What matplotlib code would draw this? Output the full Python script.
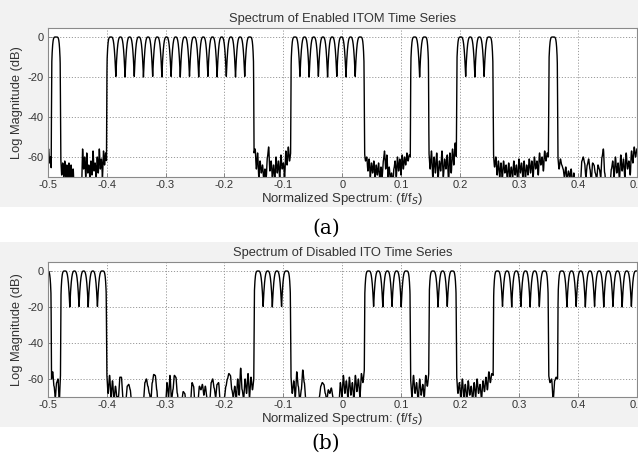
import numpy as np
import matplotlib
matplotlib.use('Agg')
import matplotlib.pyplot as plt
from matplotlib.patches import Rectangle

# ---------------- data ----------------
CH_WIDTH = 1 / 64          # channel width (normalized frequency)
CH_ORIGIN = -0.4           # left edge of channel 0
CH_RANGE = (-7, 57)        # channel indices that cover [-0.5, 0.5]

# active channels (a) enabled ITOM, (b) disabled ITO (complement)
ACTIVE_A = [-6, 0, 1, 2, 3, 4, 5, 6, 7, 8, 9, 10, 11, 12, 13, 14, 15,
            20, 21, 22, 23, 24, 25, 26, 27, 33, 34, 38, 39, 40, 41, 48]
ACTIVE_B = [-7, -5, -4, -3, -2, -1, 16, 17, 18, 19, 28, 29, 30, 31, 32,
            35, 36, 37, 42, 43, 44, 45, 46, 47, 49, 50, 51, 52, 53, 54, 55, 56, 57]

PASSBAND_RIPPLE_DB = -20   # depth of the dips between adjacent channels

# noise floor samples (dB), one list per gap between occupied bands, left to right
NOISE_A = [
    [-58, -56, -63, -60, -66],
    [-60, -69, -63, -70, -62, -71, -64, -70, -63, -72, -64, -71, -66,
     -76, -78, -77, -78, -76, -78, -77, -76,
     -56, -66, -60, -70, -58, -68, -64, -71, -62, -69, -57, -67, -63, -70,
     -60, -68, -56, -66, -61, -70, -57, -64, -58, -62],
    [-58, -56, -66, -58, -70, -62, -68, -64, -71, -66, -70, -60, -55, -67, -62,
     -70, -64, -72, -60, -68, -62, -71, -59, -66, -63, -70, -57, -64, -55, -62, -58],
    [-58, -62, -60, -67, -61, -70, -63, -68, -62, -71, -64, -69, -63, -72, -65,
     -70, -62, -57, -66, -59, -70, -65, -72, -68, -74, -66, -62, -70, -60, -67,
     -61, -69, -59, -66, -60, -64, -58, -62, -59, -60],
    [-58, -66, -57, -70, -60, -68, -58, -71, -62, -67, -57, -70, -61, -66, -59,
     -72, -58, -68, -56, -64, -53, -60],
    [-58, -65, -60, -69, -62, -70, -63, -71, -62, -68, -64, -72, -63, -70, -65,
     -71, -62, -69, -64, -72, -61, -68, -63, -70, -62, -71, -64, -69, -61, -68,
     -62, -70, -60, -66, -62, -69, -58, -64, -60, -67, -57, -62, -58, -60],
    [-60, -66, -61, -64,
     -66, -70, -65, -72, -67, -70, -66, -74, -68,
     -76, -75, -74, -76, -72,
     -62, -60, -63, -70, -64, -61, -66, -72, -63, -64, -68, -71, -64,
     -66, -70, -60, -56, -68, -74, -71, -75, -73,
     -66, -62, -70, -60, -68, -63, -71, -59, -67, -61, -70, -58, -66, -62,
     -69, -57, -63, -55, -60, -56],
]

NOISE_B = [
    [-60, -56, -64, -70, -62, -60, -72, -58],
    [-57, -68, -58, -70, -61, -72, -64, -70, -70, -59, -59, -70, -75, -72, -64,
     -63, -66, -74, -78, -78, -78, -78, -78, -78, -78, -72, -62, -60, -64, -68,
     -72, -62, -57.5, -58, -66, -75, -78, -78, -78, -78, -74, -62, -70, -58, -72,
     -66, -58, -59, -68, -76, -76, -72, -67, -68, -74, -76, -76, -72, -62, -64,
     -74, -76, -72, -64, -66, -63, -69, -64, -70, -75, -72, -62, -60, -65, -70,
     -63, -62, -72, -75, -74, -70, -64, -60, -57, -58, -66, -70, -64, -71, -60,
     -69, -54, -66, -71, -60, -68, -57, -70, -59, -66, -60],
    [-58, -68, -61, -70, -56, -64, -72,
     -66, -55, -62, -72, -75,
     -76, -78, -76, -78, -77, -76, -74,
     -70, -64, -62, -63, -68, -72,
     -66, -68, -65, -70,
     -76, -78, -76, -74,
     -62, -70, -58, -68, -61, -71, -59, -69, -62, -72, -58, -67, -60, -70, -57,
     -62, -55],
    [-60, -70, -58, -68, -62, -72, -60, -69, -63, -70, -58, -64, -57],
    [-58, -68, -62, -71, -60, -70, -63, -72, -61, -69, -64, -72, -62, -70, -60,
     -68, -63, -71, -61, -67, -59, -66, -56, -62, -57, -58],
    [-58, -62, -60, -72, -61, -59, -60],
]

TITLES = ['Spectrum of Enabled ITOM Time Series', 'Spectrum of Disabled ITO Time Series']
PANEL_TAGS = ['(a)', '(b)']
X_TICKS = [-0.5, -0.4, -0.3, -0.2, -0.1, 0, 0.1, 0.2, 0.3, 0.4, 0.5]
X_TICK_LABELS = ['-0.5', '-0.4', '-0.3', '-0.2', '-0.1', '0', '0.1', '0.2', '0.3', '0.4', '0.5']
Y_TICKS = [-60, -40, -20, 0]
Y_TICK_LABELS = ['-60', '-40', '-20', '0']


# ---------------- spectrum assembly ----------------
def smooth_interp(x, xp, fp):
    """cosine interpolation between consecutive samples (rounded peaks)"""
    xp = np.asarray(xp, float)
    fp = np.asarray(fp, float)
    idx = np.clip(np.searchsorted(xp, x, side='right') - 1, 0, len(xp) - 2)
    t = (x - xp[idx]) / (xp[idx + 1] - xp[idx])
    t = np.clip(t, 0, 1)
    w = (1 - np.cos(np.pi * t)) / 2
    return fp[idx] + (fp[idx + 1] - fp[idx]) * w


def build_spectrum(active, noise, f):
    active = set(active)
    y = np.full_like(f, -90.0)
    k = CH_RANGE[0]
    gaps = []
    while k <= CH_RANGE[1]:
        if k not in active:
            k0 = k
            while k + 1 <= CH_RANGE[1] and (k + 1) not in active:
                k += 1
            gs = max(CH_ORIGIN + k0 * CH_WIDTH, -0.5)
            ge = min(CH_ORIGIN + (k + 1) * CH_WIDTH, 0.5)
            gaps.append((gs, ge))
        k += 1
    for (gs, ge), vals in zip(gaps, noise):
        m = (f >= gs) & (f <= ge)
        fx = np.linspace(gs, ge, len(vals))
        y[m] = smooth_interp(f[m], fx, vals)
    lobe = np.full_like(f, -200.0)
    in_band = np.zeros_like(f, dtype=bool)
    for k in active:
        c = CH_ORIGIN + (k + 0.5) * CH_WIDTH
        s = (f - c) / (CH_WIDTH / 2)
        sa = np.abs(s)
        inner = PASSBAND_RIPPLE_DB * sa ** 3
        outer = PASSBAND_RIPPLE_DB * sa ** 5 - 800 * np.clip(sa - 0.9, 0, None) ** 1.5
        left_open = (k - 1) not in active
        right_open = (k + 1) not in active
        val = np.where(s < 0, outer if left_open else inner, outer if right_open else inner)
        region = sa <= 1.0
        region |= (s < 0) & left_open & (sa <= 1.2)
        region |= (s > 0) & right_open & (sa <= 1.2)
        lobe = np.where(region, np.maximum(lobe, val), lobe)
        in_band |= sa <= 1.0
    return np.where(in_band, lobe, np.maximum(y, lobe))


f = np.linspace(-0.5, 0.5, 12001)
spectra = [build_spectrum(ACTIVE_A, NOISE_A, f), build_spectrum(ACTIVE_B, NOISE_B, f)]

# ---------------- figure ----------------
plt.rcParams['font.family'] = ['Liberation Sans', 'DejaVu Sans']
fig = plt.figure(figsize=(6.38, 4.57), dpi=100)
H = 457.0
W = 638.0

for (y0, y1) in [(0, 207), (242, 427)]:
    fig.patches.append(Rectangle((0, 1 - y1 / H), 1, (y1 - y0) / H, transform=fig.transFigure,
                                 facecolor='#f2f2f2', edgecolor='none', zorder=-5))

axes_px = [(47.7, 28, 636.9, 177), (47.7, 262, 636.9, 397)]
ylims = [(-70, 4.5), (-70, 5)]
tag_y = [228, 443]

for i, (l, t, r, b) in enumerate(axes_px):
    ax = fig.add_axes([l / W, 1 - b / H, (r - l) / W, (b - t) / H])
    ax.set_zorder(2)
    ax.set_facecolor('white')
    ax.plot(f, spectra[i], color='black', lw=1.0)
    ax.set_xlim(-0.5, 0.5)
    ax.set_ylim(*ylims[i])
    ax.set_xticks(X_TICKS)
    ax.set_xticklabels(X_TICK_LABELS)
    ax.set_yticks(Y_TICKS)
    ax.set_yticklabels(Y_TICK_LABELS)
    ax.grid(True, linestyle=(0, (1.2, 1.8)), color='#9a9a9a', lw=0.7)
    ax.tick_params(direction='in', length=3, width=0.6, color='#777777',
                   labelsize=8, labelcolor='#333333')
    ax.tick_params(axis='x', pad=2.5)
    ax.tick_params(axis='y', pad=3)
    for sp in ax.spines.values():
        sp.set_color('#8a8a8a')
        sp.set_linewidth(0.8)
    ax.set_title(TITLES[i], fontsize=9.3, color='#333333', pad=4)
    ax.set_xlabel(r'Normalized Spectrum: (f/f$_S$)', fontsize=9.5, color='#333333', labelpad=0.5)
    ax.set_ylabel('Log Magnitude (dB)', fontsize=9.3, color='#333333', labelpad=3)
    fig.text(326 / W, 1 - tag_y[i] / H, PANEL_TAGS[i], ha='center', va='center',
             fontsize=14.5, family='DejaVu Serif', color='black')

fig.savefig('out.png', dpi=100)
